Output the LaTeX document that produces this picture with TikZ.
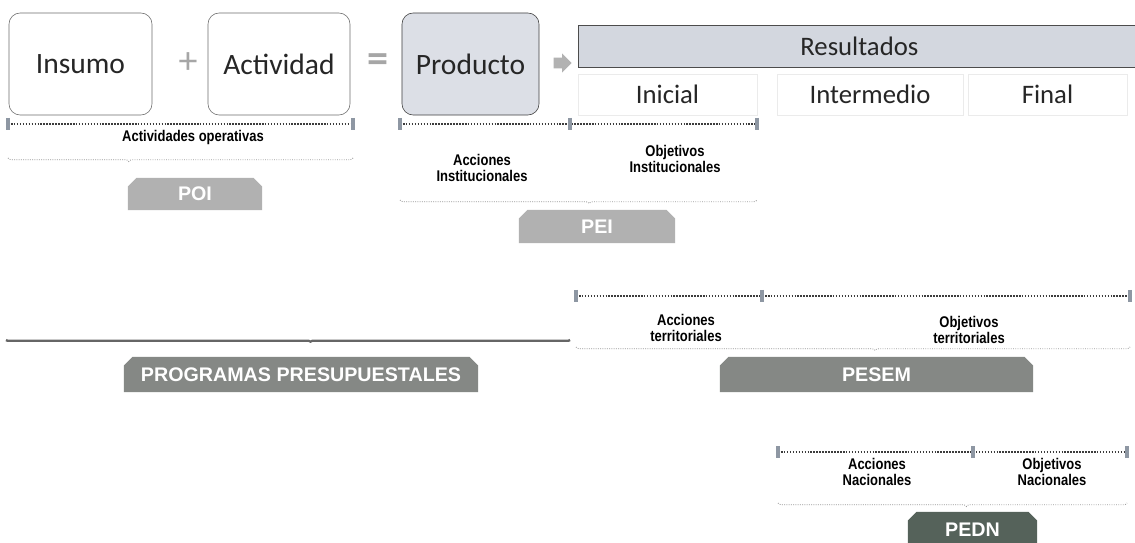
\documentclass[tikz,border=0pt]{standalone}
\usepackage{fontspec}
\setmainfont{Carlito}
\newfontfamily\narrowfont[FakeStretch=0.84]{Liberation Sans}
\newfontfamily\tabfont{Liberation Sans}
\usetikzlibrary{shapes, shapes.misc, shapes.arrows, decorations.pathreplacing, positioning}
\definecolor{boxline}{HTML}{6E6E6E}
\definecolor{prodfill}{HTML}{DCDFE6}
\definecolor{resfill}{HTML}{D3D7DF}
\definecolor{tablight}{HTML}{B1B1B1}
\definecolor{tabmid}{HTML}{858885}
\definecolor{tabdark}{HTML}{55625A}
\definecolor{dotline}{HTML}{3C3C3C}
\definecolor{markcol}{HTML}{8E97A3}

\begin{document}
\begin{tikzpicture}[x=0.025cm, y=-0.025cm,
    mainbox/.style={draw=boxline, rounded corners=0.28cm, minimum height=2.55cm, text=black!85, font=\fontsize{21}{24}\selectfont},
    cell/.style={draw=black!8, fill=white, minimum height=1.025cm, text=black!85, font=\fontsize{19}{22}\selectfont},
    tab/.style={chamfered rectangle, chamfered rectangle corners={north west,north east}, chamfered rectangle xsep=3pt, chamfered rectangle ysep=3pt, inner sep=0pt, text=white, font=\tabfont\bfseries\fontsize{14}{16}\selectfont},
    lbl/.style={align=center, font=\narrowfont\bfseries\fontsize{11}{11.5}\selectfont},
    dots/.style={densely dotted, line width=1.1pt, dotline},
    endmark/.style={line width=2.2pt, markcol},
    curly/.style={decorate, decoration={brace, mirror, amplitude=2.5pt, aspect=#1}, densely dotted, line width=0.6pt, gray!80},
]
        \useasboundingbox (0,0) rectangle (1135,543);
        \fill[white] (0,0) rectangle (1135,543);

        % Draw the chain Insumo + Actividad = Producto
        \node[mainbox, fill=white, minimum width=3.575cm] (insumo) at (80.5,64) {Insumo};
        \node[text=gray!70, font=\fontsize{27}{27}\selectfont] (mas) at (188,63) {+};
        \node[mainbox, fill=white, minimum width=3.55cm] (actividad) at (279,64) {Actividad};
        \node[text=gray!70, font=\bfseries\fontsize{30}{30}\selectfont] (igual) at (378,63) {=};
        \node[mainbox, draw=black!75, fill=prodfill, minimum width=3.425cm] (producto) at (470.5,64) {Producto};
        \node[single arrow, fill=gray!60, minimum height=0.45cm, inner sep=3.6pt, single arrow head extend=3pt] (flecha) at (560,63) {};

        % Draw results header and its three columns
        \node[draw=black!70, fill=resfill, anchor=west, minimum width=14.05cm, minimum height=1.05cm, text=black!85, font=\fontsize{19}{22}\selectfont] (resultados) at (578,46) {Resultados};
        \node[cell, minimum width=4.475cm] (inicial) at (667.5,94.5) {Inicial};
        \node[cell, minimum width=4.65cm] (intermedio) at (870,94.5) {Intermedio};
        \node[cell, minimum width=3.975cm] (final) at (1047.5,94.5) {Final};

        % Draw POI level
        \coordinate (b1a) at (8,124);
        \coordinate (b1b) at (353,124);
        \draw[dots] (b1a) -- (b1b);
        \foreach \c in {b1a,b1b} \draw[endmark] (\c) ++(0,-6) -- ++(0,12);
        \node[lbl] (actop) at (193,138) {Actividades operativas};
        \draw[curly=0.35] (8,158) -- (353,158);
        \node[tab, fill=tablight, minimum width=3.35cm, minimum height=0.8cm] (poi) at (195,194) {POI};

        % Draw PEI level
        \coordinate (b2a) at (400,124);
        \coordinate (b2b) at (570,124);
        \coordinate (b2c) at (757,124);
        \draw[dots] (b2a) -- (b2b) -- (b2c);
        \foreach \c in {b2a,b2b,b2c} \draw[endmark] (\c) ++(0,-6) -- ++(0,12);
        \node[lbl] (accinst) at (482,168) {Acciones\\Institucionales};
        \node[lbl] (objinst) at (675,159) {Objetivos\\Institucionales};
        \draw[curly=0.53] (400,200) -- (757,200);
        \node[tab, fill=tablight, minimum width=3.9cm, minimum height=0.825cm] (pei) at (597,226.5) {PEI};

        % Draw PESEM level
        \coordinate (b3a) at (576,296);
        \coordinate (b3b) at (762,296);
        \coordinate (b3c) at (1130,296);
        \draw[dots] (b3a) -- (b3b) -- (b3c);
        \foreach \c in {b3a,b3b,b3c} \draw[endmark] (\c) ++(0,-6) -- ++(0,12);
        \node[lbl] (accterr) at (686,328) {Acciones\\territoriales};
        \node[lbl] (objterr) at (969,330) {Objetivos\\territoriales};
        \draw[curly=0.54] (576,347) -- (1130,347);
        \node[tab, fill=tabmid, minimum width=7.825cm, minimum height=0.875cm] (pesem) at (876.5,374.5) {PESEM};

        % Draw budget programmes
        \draw[decorate, decoration={brace, mirror, amplitude=1.2pt, aspect=0.54}, line width=1.6pt, black!60] (6,340) -- (570,340);
        \node[tab, fill=tabmid, minimum width=8.85cm, minimum height=0.875cm] (pp) at (301,374.5) {PROGRAMAS PRESUPUESTALES};

        % Draw PEDN level
        \coordinate (b4a) at (778,452);
        \coordinate (b4b) at (973,452);
        \coordinate (b4c) at (1127,452);
        \draw[dots] (b4a) -- (b4b) -- (b4c);
        \foreach \c in {b4a,b4b,b4c} \draw[endmark] (\c) ++(0,-6) -- ++(0,12);
        \node[lbl] (accnac) at (877,472) {Acciones\\Nacionales};
        \node[lbl] (objnac) at (1052,472) {Objetivos\\Nacionales};
        \draw[curly=0.54] (778,503) -- (1127,503);
        \node[tab, fill=tabdark, minimum width=3.225cm, minimum height=0.9cm] (pedn) at (972.5,530) {PEDN};
    \end{tikzpicture}
\end{document}
